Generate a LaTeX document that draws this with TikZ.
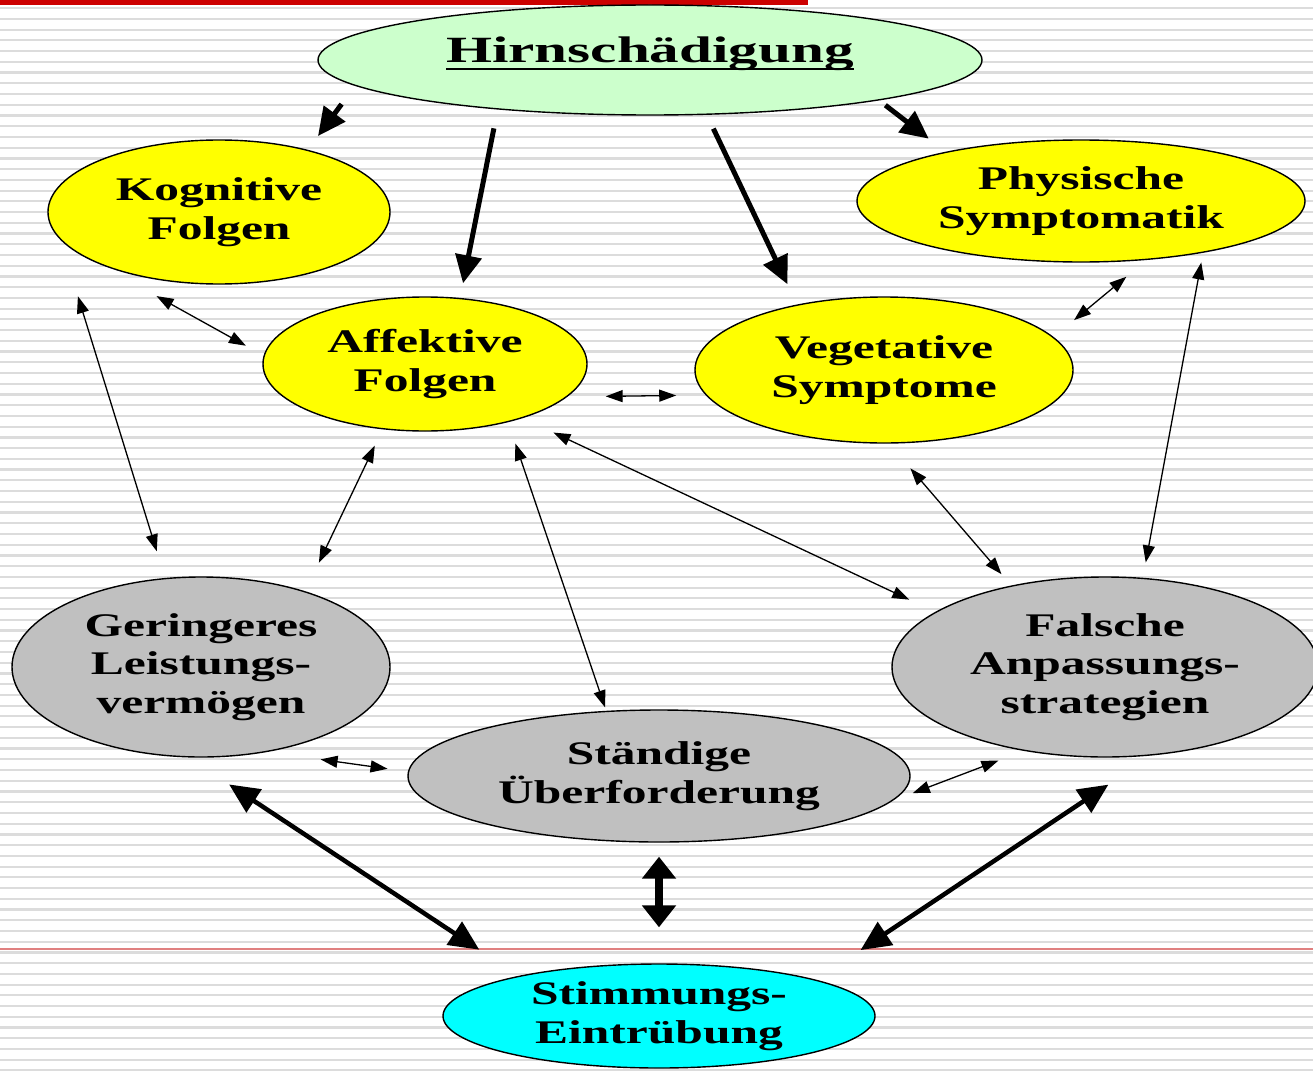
\documentclass[tikz,border=0pt]{standalone}
\usepackage{fontspec}
\setmainfont{Liberation Serif}[FakeStretch=1.5]
\newfontfamily\titelfont{Liberation Serif}[FakeStretch=1.6]
\usetikzlibrary{shapes.geometric,arrows.meta}

\definecolor{hirngruen}{HTML}{CCFFCC}
\definecolor{folgengelb}{HTML}{FFFF00}
\definecolor{folgengrau}{HTML}{C0C0C0}
\definecolor{stimmcyan}{HTML}{00FFFF}
\definecolor{streifengrau}{HTML}{DCDCDC}
\definecolor{balkenrot}{HTML}{CC0000}
\definecolor{linienrot}{HTML}{E08080}

\newcommand{\dickunter}[1]{\setbox0\hbox{#1}\rlap{\rule[-8pt]{\wd0}{2.6pt}}\box0}

\begin{document}
\begin{tikzpicture}[x=1pt,y=-1pt,
    oval/.style={ellipse, draw=black, line width=1.4pt, inner sep=0pt, align=center,
        font=\fontsize{33}{38.5}\selectfont\bfseries},
    duenn/.style={{Triangle[length=17pt,width=12pt]}-{Triangle[length=17pt,width=12pt]}, line width=1.3pt},
    dick/.style={-{Triangle[length=28pt,width=26pt]}, line width=5pt},
    dickbeide/.style={{Triangle[length=30pt,width=27pt]}-{Triangle[length=30pt,width=27pt]}, line width=4.5pt},
    kurzbeide/.style={{Triangle[length=22pt,width=33pt]}-{Triangle[length=22pt,width=33pt]}, line width=8pt}]

    % Hintergrund
    \def\streifenabstand{10.73}
    \useasboundingbox (0,0) rectangle (1313,1070);
    \fill[white] (0,0) rectangle (1313,1070);
    \foreach \i in {0,...,99}
        \draw[streifengrau, line width=2.2pt] (0,8.2+\streifenabstand*\i) -- (1313,8.2+\streifenabstand*\i);
    \fill[balkenrot] (0,0) rectangle (808,5);
    \draw[linienrot, line width=1.5pt] (0,949) -- (1313,949);

    % Ellipsen
    \node[oval, fill=hirngruen, minimum width=664pt, minimum height=110pt,
        font=\fontsize{37}{40}\selectfont\titelfont\bfseries] (hirn) at (650,60)
        {\raisebox{0pt}[25pt][20pt]{\dickunter{Hirnschädigung}}};
    \node[oval, fill=folgengelb, minimum width=342pt, minimum height=144pt] (kog) at (219,212) {Kognitive\\Folgen};
    \node[oval, fill=folgengelb, minimum width=448pt, minimum height=122pt] (phys) at (1081,201) {Physische\\Symptomatik};
    \node[oval, fill=folgengelb, minimum width=324pt, minimum height=134pt] (aff) at (425,364) {Affektive\\Folgen};
    \node[oval, fill=folgengelb, minimum width=378pt, minimum height=146pt] (veg) at (884,370) {Vegetative\\Symptome};
    \node[oval, fill=folgengrau, minimum width=378pt, minimum height=180pt] (geri) at (201,667) {Geringeres\\Leistungs-\\vermögen};
    \node[oval, fill=folgengrau, minimum width=426pt, minimum height=180pt] (fals) at (1105,667) {Falsche\\Anpassungs-\\strategien};
    \node[oval, fill=folgengrau, minimum width=502pt, minimum height=132pt] (staen) at (659,776) {Ständige\\Überforderung};
    \node[oval, fill=stimmcyan, minimum width=432pt, minimum height=104pt] (stimm) at (659,1016) {Stimmungs-\\Eintrübung};

    % Pfeile von der Hirnschädigung
    \draw[dick, shorten <=22.8pt, shorten >=17.1pt] (hirn.185.9) -- (kog.35.6);
    \draw[dick, shorten <=19.2pt, shorten >=14.9pt] (hirn.198.3) -- (aff.62.7);
    \draw[dick, shorten <=15.2pt, shorten >=22.5pt] (hirn.316.8) -- (veg.143.9);
    \draw[dick, shorten <=7.9pt, shorten >=21.4pt] (hirn.350.8) -- (phys.160.7);

    % Wechselwirkungen
    \draw[duenn, shorten <=67.2pt, shorten >=20.2pt] (kog.203.3) -- (aff.177.1);
    \draw[duenn, shorten <=58.9pt, shorten >=27.9pt] (kog.190.7) -- (geri.112.1);
    \draw[duenn, shorten <=38.4pt, shorten >=29.4pt] (aff.347.8) -- (veg.188.0);
    \draw[duenn, shorten <=26.2pt, shorten >=26.5pt] (phys.318.2) -- (veg.11.1);
    \draw[duenn, shorten <=9.8pt, shorten >=15.6pt] (phys.337.0) -- (fals.67.2);
    \draw[duenn, shorten <=18.1pt, shorten >=31.6pt] (aff.237.0) -- (geri.36.55);
    \draw[duenn, shorten <=22.5pt, shorten >=3.6pt] (aff.325.2) -- (staen.129.3);
    \draw[duenn, shorten <=33.9pt, shorten >=28.8pt] (aff.331.2) -- (fals.162.1);
    \draw[duenn, shorten <=32.6pt, shorten >=14.9pt] (veg.274.9) -- (fals.139.9);
    \draw[duenn, shorten <=53.7pt, shorten >=20.5pt] (geri.308.0) -- (staen.179.6);
    \draw[duenn, shorten <=21.2pt, shorten >=27.3pt] (staen.354.0) -- (fals.226.4);

    % zur Stimmungs-Eintruebung
    \draw[dickbeide, shorten <=48.9pt, shorten >=47.4pt] (geri.262.6) -- (stimm.164.1);
    \draw[kurzbeide, shorten <=14pt, shorten >=36pt] (staen.270) -- (stimm.90);
    \draw[dickbeide, shorten <=52.5pt, shorten >=53.4pt] (fals.298.0) -- (stimm.13.3);
\end{tikzpicture}
\end{document}
